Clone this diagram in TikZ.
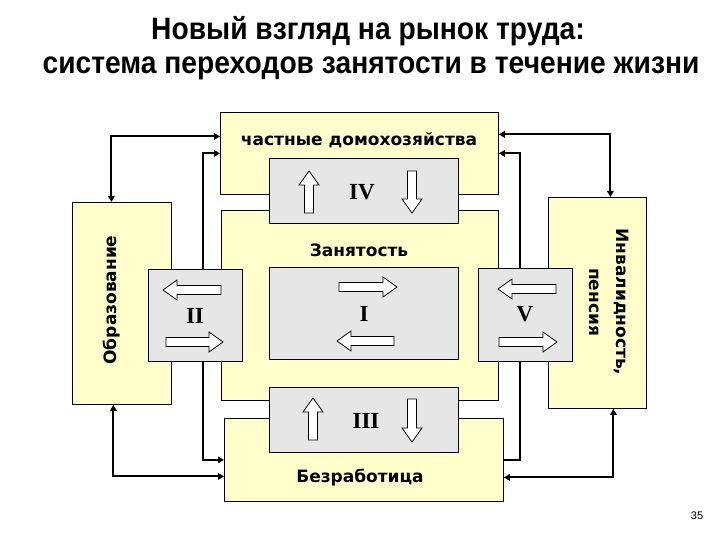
\documentclass[tikz,border=0pt]{standalone}
\usepackage{fontspec}
\setmainfont{Liberation Sans}
\newfontfamily\verd{DejaVu Sans}
\newfontfamily\tnr{Liberation Serif}
\usetikzlibrary{arrows.meta}
\definecolor{boxyellow}{RGB}{255,255,204}
\definecolor{boxgrey}{RGB}{230,230,230}
\tikzset{
  x=1pt, y=-1pt,
  ybox/.style={draw=black, line width=0.8pt, fill=boxyellow, anchor=north west, inner sep=0pt},
  gbox/.style={draw=black, line width=0.8pt, fill=boxgrey, anchor=north west, inner sep=0pt},
  lbl/.style={font=\verd\bfseries\fontsize{17}{20}\selectfont, inner sep=0pt},
  roman/.style={font=\tnr\bfseries\fontsize{23}{26}\selectfont, inner sep=0pt},
  titletext/.style={font=\bfseries\fontsize{31}{36}\selectfont, inner sep=0pt, xscale=0.91, anchor=base},
  conn/.style={line width=2pt, draw=black},
  tip/.tip={Triangle[length=6pt,width=6.5pt]},
  arrowline/.style={draw=black, line width=0.8pt, fill=white},
  pics/blkarrow/.style={code={
    \draw[arrowline] (0,-4.5) -- (#1-14,-4.5) -- (#1-14,-10) -- (#1,0) -- (#1-14,10) -- (#1-14,4.5) -- (0,4.5) -- cycle;}}
}
\begin{document}
\begin{tikzpicture}
\fill[white] (0,0) rectangle (720,540);
\useasboundingbox (0,0) rectangle (720,540);

% title
\node[titletext] (t1) at (368,40) {Новый взгляд на рынок труда:};
\node[titletext] (t2) at (371,74) {система переходов занятости в течение жизни};

% yellow boxes
\node[ybox, minimum width=278, minimum height=82] (hh) at (220,112) {};
\node[ybox, minimum width=99, minimum height=202] (edu) at (72,202) {};
\node[ybox, minimum width=98, minimum height=211] (inv) at (548,197) {};
\node[ybox, minimum width=277, minimum height=190] (emp) at (221,210) {};
\node[ybox, minimum width=279, minimum height=83] (unemp) at (224,418) {};

% grey boxes
\node[gbox, minimum width=189, minimum height=65] (bIV) at (269,158) {};
\node[gbox, minimum width=94, minimum height=92] (bII) at (148,269) {};
\node[gbox, minimum width=189, minimum height=92] (bI) at (269,267) {};
\node[gbox, minimum width=94, minimum height=93] (bV) at (478,268) {};
\node[gbox, minimum width=189, minimum height=65] (bIII) at (269,387) {};

% texts
\node[lbl, anchor=base] (thh) at (359,146) {частные домохозяйства};
\node[lbl, anchor=base] (temp) at (359,256) {Занятость};
\node[lbl, anchor=base] (tun) at (360,482) {Безработица};
\node[lbl, rotate=90] (tedu) at (112,300) {Образование};
\node[lbl, rotate=-90, align=center] (tinv) at (609,302) {Инвалидность,\\[7pt]пенсия};

\node[roman] (rIV) at (362,192) {IV};
\node[roman] (rII) at (195,316) {II};
\node[roman] (rI) at (364,314) {I};
\node[roman] (rV) at (525,314) {V};
\node[roman] (rIII) at (366,421) {III};

\node[font=\fontsize{11}{13}\selectfont, inner sep=0pt] (pg) at (697,516) {35};

% block arrows
\pic[rotate=90] at (309,213) {blkarrow=42};
\pic[rotate=-90] at (412,171) {blkarrow=42};
\pic[rotate=180] at (221,290) {blkarrow=58};
\pic at (166,342) {blkarrow=57};
\pic at (339,287) {blkarrow=58};
\pic[rotate=180] at (394,341) {blkarrow=57};
\pic[rotate=180] at (556,289) {blkarrow=58};
\pic at (499,342) {blkarrow=58};
\pic[rotate=90] at (313,440) {blkarrow=42};
\pic[rotate=-90] at (412,399) {blkarrow=43};

% connectors
\draw[conn, {tip}-{tip}] ([yshift=17pt]hh.west) -| ([xshift=-10.5pt]edu.north);
\draw[conn, -{tip}] ([xshift=8pt]bII.north) |- (hh.west);
\draw[conn, {tip}-{tip}] ([yshift=19pt]hh.east) -| ([xshift=13pt]inv.north);
\draw[conn, -{tip}] ([xshift=-5pt]bV.north) |- (hh.east);
\draw[conn, -{tip}] ([xshift=8pt]bII.south) |- (unemp.west);
\draw[conn, {tip}-{tip}] ([xshift=-8.5pt]edu.south) |- ([yshift=-16.5pt]unemp.west);
\draw[conn] ([xshift=-5pt]bV.south) |- (unemp.east);
\draw[conn, {tip}-{tip}] ([yshift=-17.5pt]unemp.east) -| ([xshift=16pt]inv.south);
\end{tikzpicture}
\end{document}
